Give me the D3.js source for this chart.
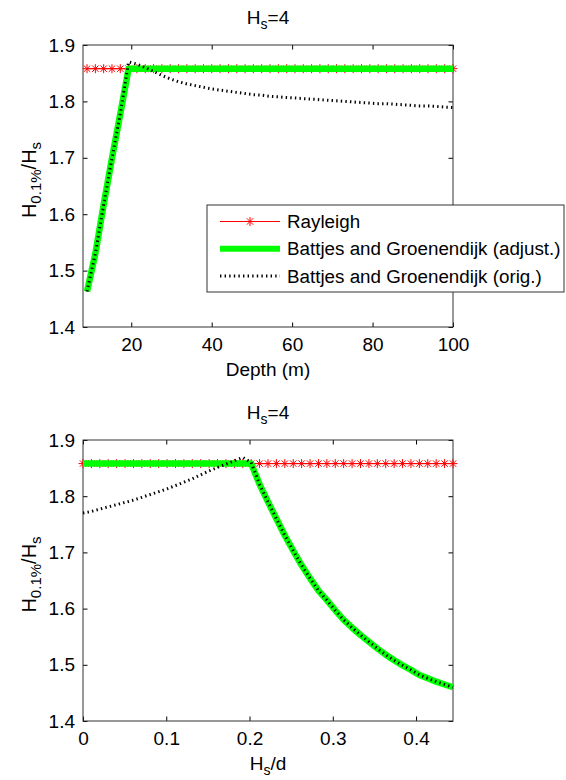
<!DOCTYPE html>
<html>
<head>
<meta charset="utf-8">
<script src="https://cdn.jsdelivr.net/npm/d3@7"></script>
<style>
  body { margin: 0; background: #fff; }
  svg text { font-family: "Liberation Sans", Arial, sans-serif; fill: #000; }
</style>
</head>
<body>
<svg id="chart" width="566" height="780"></svg>
<script>
// rayleigh H0.1%/Hs (constant)
const RAYLEIGH = 1.858;

// top panel: depth (m)
const depth = [9.00, 11.07, 13.14, 15.20, 17.27, 19.34, 21.41, 23.48, 25.55, 27.61,
  29.68, 31.75, 33.82, 35.89, 37.95, 40.02, 42.09, 44.16, 46.23, 48.30,
  50.36, 52.43, 54.50, 56.57, 58.64, 60.70, 62.77, 64.84, 66.91, 68.98,
  71.05, 73.11, 75.18, 77.25, 79.32, 81.39, 83.45, 85.52, 87.59, 89.66,
  91.73, 93.80, 95.86, 97.93, 100.00];
const adjustTop = [1.463, 1.530, 1.617, 1.699, 1.778, 1.858, 1.858, 1.858, 1.858, 1.858,
  1.858, 1.858, 1.858, 1.858, 1.858, 1.858, 1.858, 1.858, 1.858, 1.858,
  1.858, 1.858, 1.858, 1.858, 1.858, 1.858, 1.858, 1.858, 1.858, 1.858,
  1.858, 1.858, 1.858, 1.858, 1.858, 1.858, 1.858, 1.858, 1.858, 1.858,
  1.858, 1.858, 1.858, 1.858, 1.858];
const origTop = [1.463, 1.530, 1.617, 1.699, 1.778, 1.870, 1.866, 1.860, 1.853, 1.846,
  1.840, 1.835, 1.831, 1.828, 1.825, 1.822, 1.820, 1.818, 1.816, 1.814,
  1.812, 1.811, 1.809, 1.808, 1.807, 1.806, 1.805, 1.804, 1.803, 1.802,
  1.801, 1.800, 1.799, 1.798, 1.797, 1.796, 1.796, 1.795, 1.794, 1.793,
  1.792, 1.792, 1.791, 1.790, 1.789];

// bottom panel: Hs/d
const hsd = [0, 0.0101, 0.0202, 0.0303, 0.0404, 0.0505, 0.0606, 0.0707, 0.0808, 0.0909,
  0.1010, 0.1111, 0.1212, 0.1313, 0.1414, 0.1515, 0.1616, 0.1717, 0.1818, 0.1919,
  0.2020, 0.2121, 0.2222, 0.2323, 0.2424, 0.2525, 0.2626, 0.2727, 0.2828, 0.2929,
  0.3030, 0.3131, 0.3232, 0.3333, 0.3434, 0.3535, 0.3636, 0.3737, 0.3838, 0.3939,
  0.4040, 0.4141, 0.4242, 0.4343, 0.4444];
const adjustBot = [1.858, 1.858, 1.858, 1.858, 1.858, 1.858, 1.858, 1.858, 1.858, 1.858,
  1.858, 1.858, 1.858, 1.858, 1.858, 1.858, 1.858, 1.858, 1.858, 1.858,
  1.858, 1.821, 1.790, 1.760, 1.730, 1.703, 1.677, 1.654, 1.632, 1.615,
  1.597, 1.580, 1.566, 1.553, 1.541, 1.529, 1.518, 1.508, 1.499, 1.491,
  1.482, 1.476, 1.470, 1.465, 1.460];
const origBot = [1.770, 1.773, 1.777, 1.781, 1.785, 1.789, 1.793, 1.798, 1.803, 1.808,
  1.813, 1.819, 1.825, 1.831, 1.838, 1.845, 1.851, 1.857, 1.863, 1.869,
  1.860, 1.821, 1.790, 1.760, 1.730, 1.703, 1.677, 1.654, 1.632, 1.615,
  1.597, 1.580, 1.566, 1.553, 1.541, 1.529, 1.518, 1.508, 1.499, 1.491,
  1.482, 1.476, 1.470, 1.465, 1.460];

const yTicks = [1.4, 1.5, 1.6, 1.7, 1.8, 1.9];
const topXTicks = [20, 40, 60, 80, 100];
const botXTicks = [0, 0.1, 0.2, 0.3, 0.4];
const legendLabels = ["Rayleigh", "Battjes and Groenendijk (adjust.)", "Battjes and Groenendijk (orig.)"];

const svg = d3.select("#chart");
const FS = 19;
const left = 83, right = 453;
const green = "#00ff00";

// asterisk marker (plus + cross)
const star = "M0,-4.5V4.5M-4.5,0H4.5M-3.2,-3.2L3.2,3.2M-3.2,3.2L3.2,-3.2";

// subscript helper
function subText(sel, parts, size) {
  parts.forEach(p => {
    if (p.sub) {
      sel.append("tspan").attr("font-size", size - 5).attr("dy", 5).text(p.t);
    } else {
      sel.append("tspan").attr("font-size", size).attr("dy", p.after ? -5 : 0).text(p.t);
    }
  });
}

function drawPanel(cfg) {
  const x = d3.scaleLinear().domain(cfg.xDomain).range([left, right]);
  const y = d3.scaleLinear().domain([1.4, 1.9]).range([cfg.bottom, cfg.top]);
  const g = svg.append("g");

  // ticks on all four sides, pointing in
  const ax = [
    { a: d3.axisBottom(x).tickValues(cfg.xTicks).tickFormat(cfg.fmt), t: `translate(0,${cfg.bottom})`, pad: 10.5 },
    { a: d3.axisTop(x).tickValues(cfg.xTicks).tickFormat(""), t: `translate(0,${cfg.top})`, pad: 8 },
    { a: d3.axisLeft(y).tickValues(yTicks).tickFormat(d3.format(".1f")), t: `translate(${left},0)`, pad: 8 },
    { a: d3.axisRight(y).tickValues(yTicks).tickFormat(""), t: `translate(${right},0)`, pad: 8 }
  ];
  ax.forEach(o => {
    const ag = g.append("g").attr("transform", o.t)
      .call(o.a.tickSizeInner(-4.5).tickSizeOuter(0).tickPadding(o.pad));
    ag.select(".domain").remove();
    ag.selectAll(".tick line").attr("stroke", "#000");
    ag.selectAll("text").attr("font-size", FS).attr("font-family", "Liberation Sans, Arial, sans-serif");
  });

  // box
  g.append("rect").attr("x", left).attr("y", cfg.top)
    .attr("width", right - left).attr("height", cfg.bottom - cfg.top)
    .attr("fill", "none").attr("stroke", "#333").attr("stroke-width", 1);

  const line = d3.line().x(d => x(d[0])).y(d => y(d[1]));

  // rayleigh
  const ray = cfg.xs.map(v => [v, RAYLEIGH]);
  g.append("path").attr("d", line(ray)).attr("fill", "none").attr("stroke", "#ff0000").attr("stroke-width", 1);
  g.selectAll(".star").data(ray).join("path").attr("class", "star")
    .attr("transform", d => `translate(${x(d[0])},${y(d[1])})`)
    .attr("d", star).attr("stroke", "#ff0000").attr("stroke-width", 1).attr("fill", "none");

  // adjusted
  g.append("path").attr("d", line(cfg.xs.map((v, i) => [v, cfg.adj[i]])))
    .attr("fill", "none").attr("stroke", green).attr("stroke-width", 6.5).attr("stroke-linejoin", "round");

  // original (dotted)
  g.append("path").attr("d", line(cfg.xs.map((v, i) => [v, cfg.orig[i]])))
    .attr("fill", "none").attr("stroke", "#000").attr("stroke-width", 3).attr("stroke-dasharray", "1.4,3.2");

  // title
  const tt = svg.append("text").attr("x", (left + right) / 2).attr("y", cfg.top - 21).attr("text-anchor", "middle");
  subText(tt, [{ t: "H" }, { t: "s", sub: true }, { t: "=4", after: true }], FS);

  // y label
  const yl = svg.append("text").attr("text-anchor", "middle")
    .attr("transform", `translate(36,${(cfg.top + cfg.bottom) / 2 - 6}) rotate(-90)`);
  subText(yl, [{ t: "H" }, { t: "0.1%", sub: true }, { t: "/H", after: true }, { t: "s", sub: true }], 20);

  // x label
  const xl = svg.append("text").attr("x", (left + right) / 2).attr("y", cfg.bottom + 49).attr("text-anchor", "middle");
  subText(xl, cfg.xLabel, FS);

  return g;
}

drawPanel({
  top: 45, bottom: 327, xDomain: [8, 100], xTicks: topXTicks, fmt: d3.format("d"),
  xs: depth, adj: adjustTop, orig: origTop, xLabel: [{ t: "Depth (m)" }]
});
drawPanel({
  top: 440, bottom: 721, xDomain: [0, 0.4444], xTicks: botXTicks, fmt: d => d === 0 ? "0" : d3.format(".1f")(d),
  xs: hsd, adj: adjustBot, orig: origBot, xLabel: [{ t: "H" }, { t: "s", sub: true }, { t: "/d", after: true }]
});

// legend (top panel)
const lg = svg.append("g");
lg.append("rect").attr("x", 207).attr("y", 205).attr("width", 357).attr("height", 87)
  .attr("fill", "#fff").attr("stroke", "#333").attr("stroke-width", 1);
const rowY = d3.scalePoint().domain(legendLabels).range([221.5, 276]);
legendLabels.forEach((lab, i) => {
  const yy = rowY(lab);
  const ln = lg.append("line").attr("x1", 220).attr("x2", 280).attr("y1", yy).attr("y2", yy);
  if (i === 0) {
    ln.attr("stroke", "#ff0000").attr("stroke-width", 1);
    lg.append("path").attr("transform", `translate(250,${yy})`).attr("d", star)
      .attr("stroke", "#ff0000").attr("fill", "none");
  } else if (i === 1) {
    ln.attr("stroke", green).attr("stroke-width", 6);
  } else {
    ln.attr("stroke", "#000").attr("stroke-width", 3).attr("stroke-dasharray", "1.4,3.2");
  }
  lg.append("text").attr("x", 287).attr("y", yy).attr("dy", "0.35em")
    .attr("font-size", 18.8).text(lab);
});
</script>
</body>
</html>
